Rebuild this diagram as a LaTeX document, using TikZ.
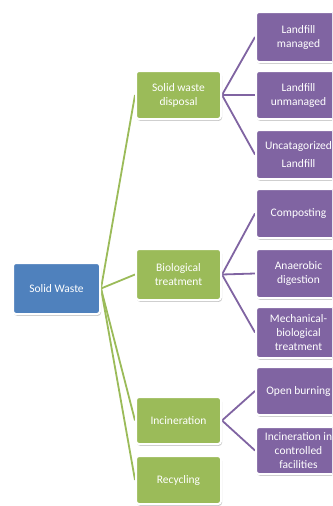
\documentclass[tikz,border=0pt]{standalone}
\usepackage{fontspec}
\setmainfont{Carlito}
\usetikzlibrary{shadows,backgrounds}
\definecolor{cblue}{HTML}{4F81BD}
\definecolor{cgreen}{HTML}{9BBB59}
\definecolor{cpurple}{HTML}{8064A2}
\begin{document}
\begin{tikzpicture}[x=1pt,y=-1pt,
  box/.style={rounded corners=3pt, draw=white, line width=2pt, text=white, align=center,
    font=\fontsize{11.5}{14}\selectfont, inner sep=1pt,
    drop shadow={opacity=0.35, shadow xshift=1pt, shadow yshift=-1.8pt, fill=black!60}},
  rootbox/.style={box, fill=cblue, minimum width=87pt},
  gbox/.style={box, fill=cgreen, minimum width=85pt},
  pbox/.style={box, fill=cpurple, minimum width=85pt},
  gline/.style={draw=cgreen, line width=1.8pt},
  pline/.style={draw=cpurple, line width=1.8pt}]
\clip (0,0) rectangle (332,506);

\node[rootbox, minimum height=51pt] (sw) at (56.5,288.5) {Solid Waste};

\node[gbox, minimum height=48pt] (swd) at (178.5,95) {Solid waste\\disposal};
\node[gbox, minimum height=51pt] (bio) at (178.5,274.5) {Biological\\treatment};
\node[gbox, minimum height=47pt] (inc) at (178.5,420.5) {Incineration};
\node[gbox, minimum height=48pt] (rec) at (178.5,480) {Recycling};

\node[pbox, minimum height=50pt] (lm) at (298.5,37) {Landfill\\managed};
\node[pbox, minimum height=48pt] (lu) at (298.5,95) {Landfill\\unmanaged};
\node[pbox, minimum height=49pt] (ul) at (298.5,154.5) {Uncatagorized\\[4pt]Landfill};
\node[pbox, minimum height=49pt] (co) at (298.5,213.5) {Composting};
\node[pbox, minimum height=49pt] (ad) at (298.5,273.5) {Anaerobic\\digestion};
\node[pbox, minimum height=51pt] (mb) at (298.5,332.5) {Mechanical-\\biological\\treatment};
\node[pbox, minimum height=48pt] (ob) at (298.5,391) {Open burning};
\node[pbox, minimum height=47pt] (ic) at (298.5,450.5) {Incineration in\\controlled\\facilities};

\begin{scope}[on background layer]
\fill[white] (0,0) rectangle (332,506);
\foreach \t in {swd,bio,inc,rec} \draw[gline] (sw.east) -- (\t.west);
\foreach \t in {lm,lu,ul} \draw[pline] (swd.east) -- (\t.west);
\foreach \t in {co,ad,mb} \draw[pline] (bio.east) -- (\t.west);
\foreach \t in {ob,ic} \draw[pline] (inc.east) -- (\t.west);
\end{scope}
\end{tikzpicture}
\end{document}
